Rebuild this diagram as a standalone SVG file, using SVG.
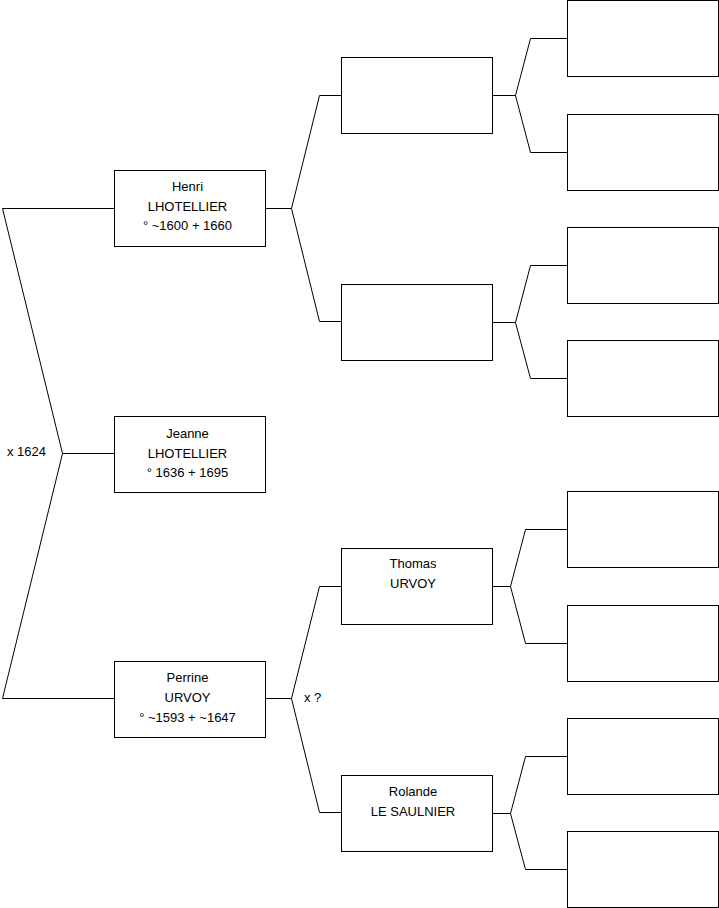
<svg xmlns="http://www.w3.org/2000/svg" width="719" height="908" viewBox="0 0 719 908">
<style>
.b{fill:#fff;stroke:#000;stroke-width:1}
.c{fill:none;stroke:#000;stroke-width:1}
text{font-family:"Liberation Sans",Arial,sans-serif;font-size:13px;fill:#000}
.m{text-anchor:middle}
</style>
<rect width="719" height="908" fill="#fff"/>
<g id="connectors">
<path class="c" d="M114.5,208.5 H2.5 L62.5,453.5 L2.5,698.5 H114.5 M62.5,453.5 H114.5"/>
<path class="c" d="M265.5,208.5 H291.5 M341.5,95.5 H319.5 L291.5,208.5 L319.5,321.5 H341.5"/>
<path class="c" d="M265.5,698.5 H291.5 M341.5,586.5 H319.5 L291.5,698.5 L319.5,812.5 H341.5"/>
<path class="c" d="M492.5,95.5 H515.5 M567.5,38.5 H530.5 L515.5,95.5 L530.5,152.5 H567.5"/>
<path class="c" d="M492.5,322.5 H515.5 M567.5,265.5 H530.5 L515.5,322.5 L530.5,378.5 H567.5"/>
<path class="c" d="M492.5,586.5 H510.5 M567.5,529.5 H525.5 L510.5,586.5 L525.5,643.5 H567.5"/>
<path class="c" d="M492.5,813.5 H510.5 M567.5,756.5 H525.5 L510.5,813.5 L525.5,869.5 H567.5"/>
<text x="7" y="456">x 1624</text>
<text x="304" y="702">x ?</text>
</g>
<g id="henri"><rect class="b" x="114.5" y="170.5" width="151" height="76"/>
<text class="m" x="187.5" y="191">Henri</text><text class="m" x="187.5" y="211">LHOTELLIER</text><text class="m" x="187.5" y="230">° ~1600 + 1660</text></g>
<g id="jeanne"><rect class="b" x="114.5" y="416.5" width="151" height="76"/>
<text class="m" x="187.5" y="438">Jeanne</text><text class="m" x="187.5" y="458">LHOTELLIER</text><text class="m" x="187.5" y="477">° 1636 + 1695</text></g>
<g id="perrine"><rect class="b" x="114.5" y="661.5" width="151" height="76"/>
<text class="m" x="187.5" y="682">Perrine</text><text class="m" x="187.5" y="702">URVOY</text><text class="m" x="187.5" y="722">° ~1593 + ~1647</text></g>
<g id="p2a"><rect class="b" x="341.5" y="57.5" width="151" height="76"/></g>
<g id="p2b"><rect class="b" x="341.5" y="284.5" width="151" height="76"/></g>
<g id="thomas"><rect class="b" x="341.5" y="548.5" width="151" height="76"/>
<text class="m" x="413" y="568">Thomas</text><text class="m" x="413" y="588">URVOY</text></g>
<g id="rolande"><rect class="b" x="341.5" y="775.5" width="151" height="76"/>
<text class="m" x="413" y="796">Rolande</text><text class="m" x="413" y="816">LE SAULNIER</text></g>
<g id="g3a"><rect class="b" x="567.5" y="0.5" width="151" height="76"/></g>
<g id="g3b"><rect class="b" x="567.5" y="114.5" width="151" height="76"/></g>
<g id="g3c"><rect class="b" x="567.5" y="227.5" width="151" height="76"/></g>
<g id="g3d"><rect class="b" x="567.5" y="340.5" width="151" height="76"/></g>
<g id="g3e"><rect class="b" x="567.5" y="491.5" width="151" height="76"/></g>
<g id="g3f"><rect class="b" x="567.5" y="605.5" width="151" height="76"/></g>
<g id="g3g"><rect class="b" x="567.5" y="718.5" width="151" height="76"/></g>
<g id="g3h"><rect class="b" x="567.5" y="831.5" width="151" height="76"/></g>
</svg>
